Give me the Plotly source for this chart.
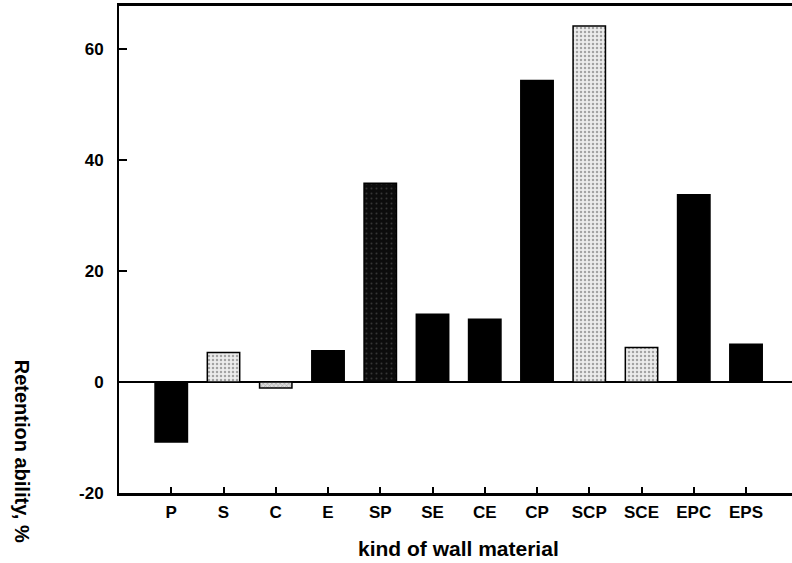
import plotly.graph_objects as go

# Wall-material combinations and their retention ability (%)
materials = ["P", "S", "C", "E", "SP", "SE", "CE", "CP", "SCP", "SCE", "EPC", "EPS"]
retention = [-10.8, 5.3, -1.1, 5.6, 35.8, 12.2, 11.3, 54.3, 64.1, 6.2, 33.7, 6.8]

# fill style for each bar: solid black, dark speckle, light speckle or fine hatch
fill_kind = ["solid", "light", "hatch", "solid", "dark", "solid",
             "solid", "solid", "light", "light", "solid", "solid"]

FILLS = {
    "solid": dict(shape="", bg="#000000", fg="#000000", sol=0.3, size=4),
    "dark": dict(shape=".", bg="#0c0c0c", fg="#606060", sol=0.12, size=5),
    "light": dict(shape=".", bg="#ececec", fg="#5a5a5a", sol=0.3, size=4),
    "hatch": dict(shape="x", bg="#dcdcdc", fg="#505050", sol=0.3, size=3),
}

fig = go.Figure()
for kind, st in FILLS.items():
    idx = [i for i, k in enumerate(fill_kind) if k == kind]
    if not idx:
        continue
    fig.add_trace(
        go.Bar(
            x=idx,
            y=[retention[i] for i in idx],
            width=0.62,
            marker=dict(
                color=st["bg"],
                line=dict(color="#000000", width=1.5),
                pattern=dict(
                    shape=st["shape"],
                    fgcolor=st["fg"],
                    solidity=st["sol"],
                    size=st["size"],
                    fillmode="overlay",
                ),
            ),
            showlegend=False,
        )
    )

tick_font = dict(family="Liberation Sans, Arial, sans-serif", size=17, color="#000000", weight="bold")

y_ticks = [-20, 0, 20, 40, 60]

fig.update_xaxes(
    range=[-1, 11.88],
    tickmode="array",
    tickvals=list(range(len(materials))),
    ticktext=materials,
    ticks="inside",
    ticklen=6,
    tickwidth=2,
    tickcolor="#000000",
    tickfont=tick_font,
    ticklabelstandoff=2,
    showline=True,
    linecolor="#000000",
    linewidth=2.5,
    mirror=True,
    showgrid=False,
    zeroline=False,
)

fig.update_yaxes(
    range=[-20, 67.7],
    tickmode="array",
    tickvals=y_ticks,
    ticktext=[str(v) for v in y_ticks],
    ticks="inside",
    ticklen=8,
    tickwidth=2,
    tickcolor="#000000",
    tickfont=tick_font,
    ticklabelstandoff=10,
    showline=True,
    linecolor="#000000",
    linewidth=2,
    showgrid=False,
    zeroline=True,
    zerolinecolor="#000000",
    zerolinewidth=1.5,
)

fig.add_annotation(
    text="kind of wall material",
    xref="paper", yref="paper",
    x=0.504, y=-0.113,
    xanchor="center", yanchor="middle",
    showarrow=False,
    font=dict(family="Liberation Sans, Arial, sans-serif", size=21, color="#000000", weight="bold"),
)

fig.add_annotation(
    text="Retention ability, %",
    xref="paper", yref="paper",
    x=-0.145, y=0.086,
    xanchor="center", yanchor="middle",
    textangle=90,
    showarrow=False,
    font=dict(family="Liberation Sans, Arial, sans-serif", size=20, color="#000000", weight="bold"),
)

fig.update_layout(
    width=792,
    height=563,
    margin=dict(l=119, r=0, t=6, b=70),
    paper_bgcolor="#ffffff",
    plot_bgcolor="#ffffff",
    barmode="overlay",
)

fig.write_html("out.html")
